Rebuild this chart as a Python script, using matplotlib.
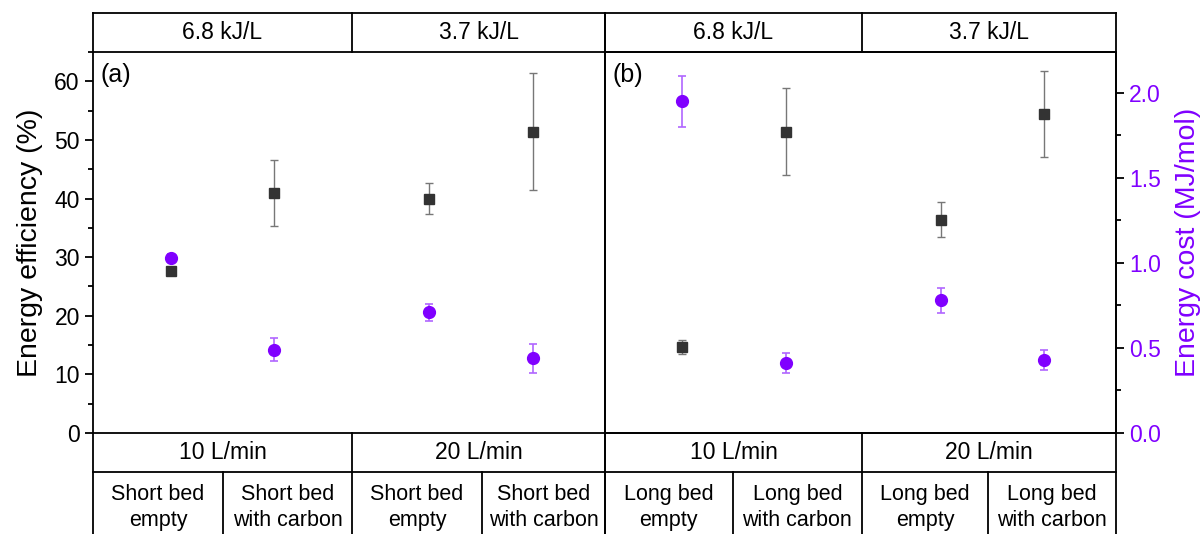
import matplotlib
matplotlib.use('Agg')
import matplotlib.pyplot as plt
from matplotlib.ticker import MultipleLocator, FormatStrFormatter

plt.rcParams['font.family'] = ['Liberation Sans', 'DejaVu Sans']

PURPLE = '#8000FF'
DARK = '#333333'

# x positions of the four conditions in each panel
x_pos = [1, 2, 3.5, 4.5]

# panel (a): short bed
eff_a = [27.6, 41.0, 40.0, 51.4]
eff_a_err = [0.6, 5.6, 2.7, 10.0]
cost_a = [1.03, 0.49, 0.71, 0.44]
cost_a_err = [0.02, 0.066, 0.05, 0.086]

# panel (b): long bed
eff_b = [14.6, 51.4, 36.4, 54.4]
eff_b_err = [1.2, 7.4, 3.0, 7.3]
cost_b = [1.95, 0.41, 0.78, 0.43]
cost_b_err = [0.15, 0.06, 0.072, 0.057]

energy_labels = ['6.8 kJ/L', '3.7 kJ/L']
flow_labels = ['10 L/min', '20 L/min']
bed_labels_a = ['Short bed\nempty', 'Short bed\nwith carbon', 'Short bed\nempty', 'Short bed\nwith carbon']
bed_labels_b = ['Long bed\nempty', 'Long bed\nwith carbon', 'Long bed\nempty', 'Long bed\nwith carbon']

fig = plt.figure(figsize=(12.04, 5.34), dpi=100)
H = 534.0
W = 1204.0
bottom = (H - 433) / H
top = (H - 52) / H
ax_h = top - bottom
ax_a = fig.add_axes([93 / W, bottom, 512 / W, ax_h])
ax_b = fig.add_axes([605 / W, bottom, 511 / W, ax_h])
ax_b.sharey(ax_a)
ax_r = ax_b.twinx()

row_h = 39 / 381.0
bot_h = 101 / 381.0


def draw_panel(ax, eff, eff_err, bed_labels, divs, mid, tag):
    ax.errorbar(x_pos, eff, yerr=eff_err, fmt='s', color=DARK, ms=7.5,
                ecolor='#777777', elinewidth=1, capsize=3, capthick=1, zorder=3)
    ax.set_xlim(0.25, 5.2)
    ax.set_xticks([])
    ax.text(0.014, 0.97, tag, transform=ax.transAxes, fontsize=18, va='top', ha='left')
    for s in ax.spines.values():
        s.set_linewidth(1.3)
    kw = dict(transform=ax.transAxes, color='black', lw=1.3, clip_on=False)
    # header row
    ax.plot([0, 1], [1 + row_h, 1 + row_h], **kw)
    ax.plot([mid, mid], [1, 1 + row_h], **kw)
    ax.plot([0, 0], [1, 1 + row_h], **kw)
    ax.plot([1, 1], [1, 1 + row_h], **kw)
    ax.text(mid / 2, 1 + row_h / 2, energy_labels[0], transform=ax.transAxes,
            ha='center', va='center', fontsize=16.5)
    ax.text((1 + mid) / 2, 1 + row_h / 2, energy_labels[1], transform=ax.transAxes,
            ha='center', va='center', fontsize=16.5)
    # flow row
    ax.plot([0, 1], [-row_h, -row_h], **kw)
    ax.plot([mid, mid], [0, -row_h], **kw)
    ax.plot([0, 0], [0, -bot_h], **kw)
    ax.plot([1, 1], [0, -bot_h], **kw)
    ax.text(mid / 2, -row_h / 2, flow_labels[0], transform=ax.transAxes,
            ha='center', va='center', fontsize=16.5)
    ax.text((1 + mid) / 2, -row_h / 2, flow_labels[1], transform=ax.transAxes,
            ha='center', va='center', fontsize=16.5)
    # bed row
    for d in divs[1:-1]:
        ax.plot([d, d], [-row_h, -bot_h], **kw)
    for i, lab in enumerate(bed_labels):
        cx = (divs[i] + divs[i + 1]) / 2
        ax.text(cx, -0.196, lab, transform=ax.transAxes, ha='center', va='center',
                fontsize=15.5, linespacing=1.32)


draw_panel(ax_a, eff_a, eff_a_err, bed_labels_a,
           [0, 0.254, 0.506, 0.760, 1.0], 0.506, '(a)')
draw_panel(ax_b, eff_b, eff_b_err, bed_labels_b,
           [0, 0.250, 0.503, 0.750, 1.0], 0.503, '(b)')

# purple series: panel (a) on a hidden twin sharing the right scale
ax_ra = ax_a.twinx()
for axr, cost, cerr in [(ax_ra, cost_a, cost_a_err), (ax_r, cost_b, cost_b_err)]:
    axr.errorbar(x_pos, cost, yerr=cerr, fmt='o', color=PURPLE, ms=8.5,
                 ecolor='#B066FF', elinewidth=1.2, capsize=3, capthick=1.2, zorder=3)
    axr.set_ylim(0, 2.24)
ax_ra.set_yticks([])
for s in ax_ra.spines.values():
    s.set_visible(False)

ax_a.set_ylim(0, 65)
ax_a.yaxis.set_major_locator(MultipleLocator(10))
ax_a.yaxis.set_minor_locator(MultipleLocator(5))
ax_a.tick_params(axis='y', which='major', direction='out', length=6, width=1.3, labelsize=16.5)
ax_a.tick_params(axis='y', which='minor', direction='out', length=3.5, width=1.3)
ax_a.set_ylabel('Energy efficiency (%)', fontsize=20.5, labelpad=8)
ax_b.tick_params(axis='y', which='both', left=False, labelleft=False)

ax_r.yaxis.set_major_locator(MultipleLocator(0.5))
ax_r.yaxis.set_minor_locator(MultipleLocator(0.25))
ax_r.yaxis.set_major_formatter(FormatStrFormatter('%.1f'))
ax_r.tick_params(axis='y', which='major', direction='out', length=6, width=1.3,
                 labelsize=16.5, labelcolor=PURPLE)
ax_r.tick_params(axis='y', which='minor', direction='out', length=3.5, width=1.3)
ax_r.set_ylabel('Energy cost (MJ/mol)', fontsize=20.5, color=PURPLE, labelpad=10)
for s in ax_r.spines.values():
    s.set_linewidth(1.3)

fig.savefig('out.png', dpi=100)
